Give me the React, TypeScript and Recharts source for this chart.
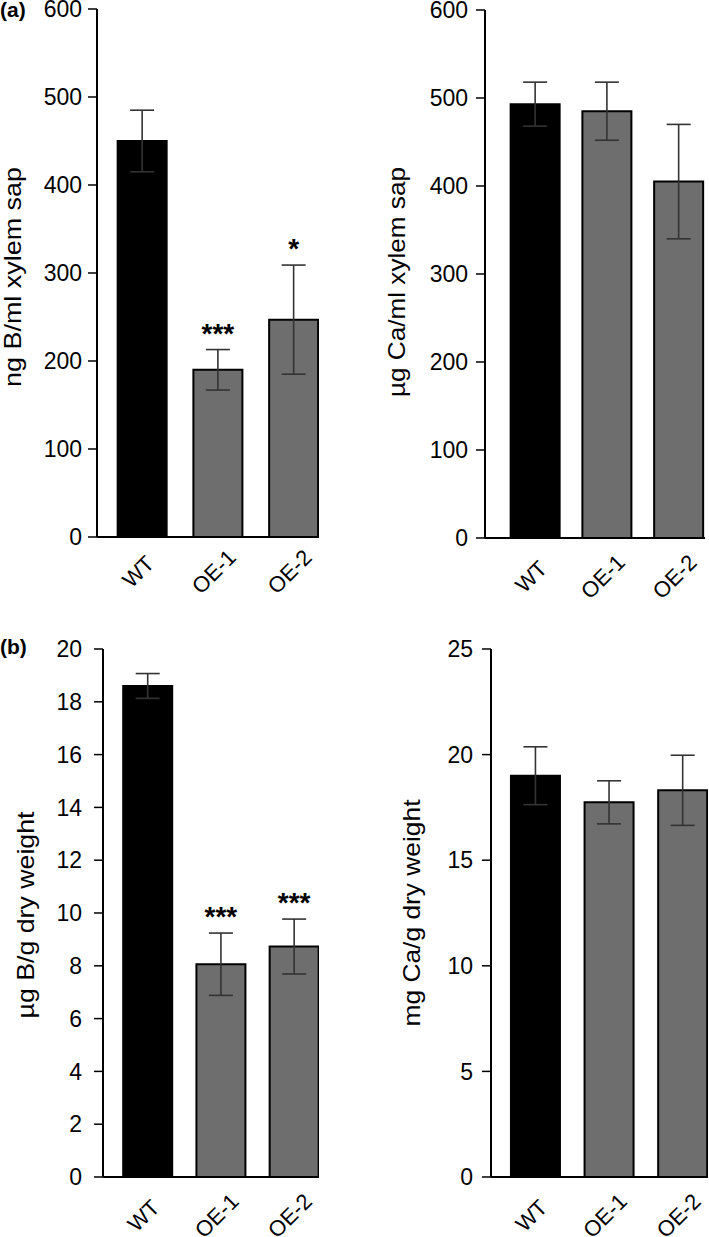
import React from 'react';
import { BarChart, Bar, XAxis, YAxis, ErrorBar, Cell, LabelList } from 'recharts';

const categories = ['WT', 'OE-1', 'OE-2'];

const sapB = [450, 190, 247];
const sapBErr = [35, 23, 62];
const sapBSig = ['', '***', '*'];

const sapCa = [493, 485, 405];
const sapCaErr = [25, 33, 65];
const sapCaSig = ['', '', ''];

const dwB = [18.6, 8.06, 8.73];
const dwBErr = [0.47, 1.18, 1.04];
const dwBSig = ['', '***', '***'];

const dwCa = [19.0, 17.74, 18.31];
const dwCaErr = [1.37, 1.02, 1.66];
const dwCaSig = ['', '', ''];

const sapTicks = [0, 100, 200, 300, 400, 500, 600];
const dwBTicks = [0, 2, 4, 6, 8, 10, 12, 14, 16, 18, 20];
const dwCaTicks = [0, 5, 10, 15, 20, 25];

const barFills = ['#000000', '#6e6e6e', '#6e6e6e'];
const FONT = '"Liberation Sans", Arial, Helvetica, sans-serif';

type Cfg = {
  left: number; top: number; width: number; height: number;
  mTop: number; mRight: number; yWidth: number; xHeight: number;
  xDomain: [number, number]; yMax: number; yTicks: number[];
  tickMargin: number; label: string; lx: number; ly: number; lLen: number;
  xLabOff: number;
};

function Panel({ cfg, values, errs, sig }: { cfg: Cfg; values: number[]; errs: number[]; sig: string[] }) {
  const data = categories.map((c, i) => ({ idx: i, name: c, value: values[i], err: errs[i], sig: sig[i] }));
  const renderXTick = (p: any) => {
    const i = p.payload.value;
    return (
      <g transform={`translate(${p.x + 1},${p.y + cfg.xLabOff}) rotate(-45)`}>
        <text x={0} y={0} textAnchor="middle" fontSize={22} fontFamily={FONT} fill="#000">{categories[i]}</text>
      </g>
    );
  };
  const renderStar = (p: any) => {
    const i = p.index;
    const s = data[i].sig;
    if (!s) return null;
    const k = p.height / data[i].value;
    const errTop = p.y - data[i].err * k;
    return (
      <text x={p.x + p.width / 2} y={errTop - 7} textAnchor="middle" fontSize={28} fontWeight="bold" fontFamily={FONT} fill="#000">{s}</text>
    );
  };
  const renderYLabel = () => (
    <text transform={`translate(${cfg.lx},${cfg.ly}) rotate(-90)`} textAnchor="middle" fontSize={24}
      fontFamily={FONT} fill="#000" textLength={cfg.lLen} lengthAdjust="spacingAndGlyphs">{cfg.label}</text>
  );
  return (
    <div style={{ position: 'absolute', left: cfg.left, top: cfg.top, width: cfg.width, height: cfg.height }}>
      <BarChart width={cfg.width} height={cfg.height} data={data}
        margin={{ top: cfg.mTop, right: cfg.mRight, bottom: 0, left: 0 }}>
        <XAxis type="number" dataKey="idx" domain={cfg.xDomain} ticks={[0, 1, 2]} allowDataOverflow
          interval={0} height={cfg.xHeight} tickLine={false} tickSize={0} tickMargin={0}
          axisLine={{ stroke: '#000', strokeWidth: 2 }} tick={renderXTick} />
        <YAxis type="number" domain={[0, cfg.yMax]} ticks={cfg.yTicks} width={cfg.yWidth} interval={0}
          tickSize={9} tickMargin={cfg.tickMargin}
          axisLine={{ stroke: '#000', strokeWidth: 2 }} tickLine={{ stroke: '#000', strokeWidth: 1.5 }}
          tick={{ fill: '#000', fontSize: 23, fontFamily: FONT }}
          label={{ content: renderYLabel }} />
        <Bar dataKey="value" barSize={49} stroke="#000" strokeWidth={2} isAnimationActive={false}>
          {data.map((d, i) => <Cell key={d.name} fill={barFills[i]} />)}
          <ErrorBar dataKey="err" width={12} stroke="#333" strokeWidth={1.6} direction="y" />
          <LabelList dataKey="value" content={renderStar} />
        </Bar>
      </BarChart>
    </div>
  );
}

const cfgTL: Cfg = {
  left: 0, top: 0, width: 340, height: 620, mTop: 9, mRight: 21, yWidth: 97, xHeight: 83,
  xDomain: [-0.601, 2.33], yMax: 600, yTicks: sapTicks, tickMargin: 6,
  label: 'ng B/ml xylem sap', lx: 21, ly: 277, lLen: 220, xLabOff: 40,
};
const cfgTR: Cfg = {
  left: 360, top: 0, width: 349, height: 620, mTop: 10, mRight: 4, yWidth: 125, xHeight: 82,
  xDomain: [-0.704, 2.362], yMax: 600, yTicks: sapTicks, tickMargin: 8,
  label: 'µg Ca/ml xylem sap', lx: 45, ly: 282, lLen: 230, xLabOff: 44,
};
const cfgBL: Cfg = {
  left: 0, top: 620, width: 340, height: 617, mTop: 29, mRight: 21, yWidth: 103, xHeight: 60,
  xDomain: [-0.612, 2.338], yMax: 20, yTicks: dwBTicks, tickMargin: 12,
  label: 'µg B/g dry weight', lx: 34, ly: 295, lLen: 207, xLabOff: 44,
};
const cfgBR: Cfg = {
  left: 360, top: 620, width: 349, height: 617, mTop: 29, mRight: 1, yWidth: 131, xHeight: 60,
  xDomain: [-0.608, 2.34], yMax: 25, yTicks: dwCaTicks, tickMargin: 9,
  label: 'mg Ca/g dry weight', lx: 60, ly: 293, lLen: 227, xLabOff: 44,
};

export default function App() {
  return (
    <div style={{ position: 'absolute', left: 0, top: 0, width: 709, height: 1237, background: '#fff', overflow: 'hidden' }}>
      <Panel cfg={cfgTL} values={sapB} errs={sapBErr} sig={sapBSig} />
      <Panel cfg={cfgTR} values={sapCa} errs={sapCaErr} sig={sapCaSig} />
      <Panel cfg={cfgBL} values={dwB} errs={dwBErr} sig={dwBSig} />
      <Panel cfg={cfgBR} values={dwCa} errs={dwCaErr} sig={dwCaSig} />
      <svg style={{ position: 'absolute', left: 0, top: 0 }} width={40} height={30}>
        <text x={0} y={17} fontSize={21} fontWeight="bold" fontFamily={FONT} fill="#000">(a)</text>
      </svg>
      <svg style={{ position: 'absolute', left: 0, top: 630 }} width={40} height={30}>
        <text x={0} y={24} fontSize={21} fontWeight="bold" fontFamily={FONT} fill="#000">(b)</text>
      </svg>
    </div>
  );
}
